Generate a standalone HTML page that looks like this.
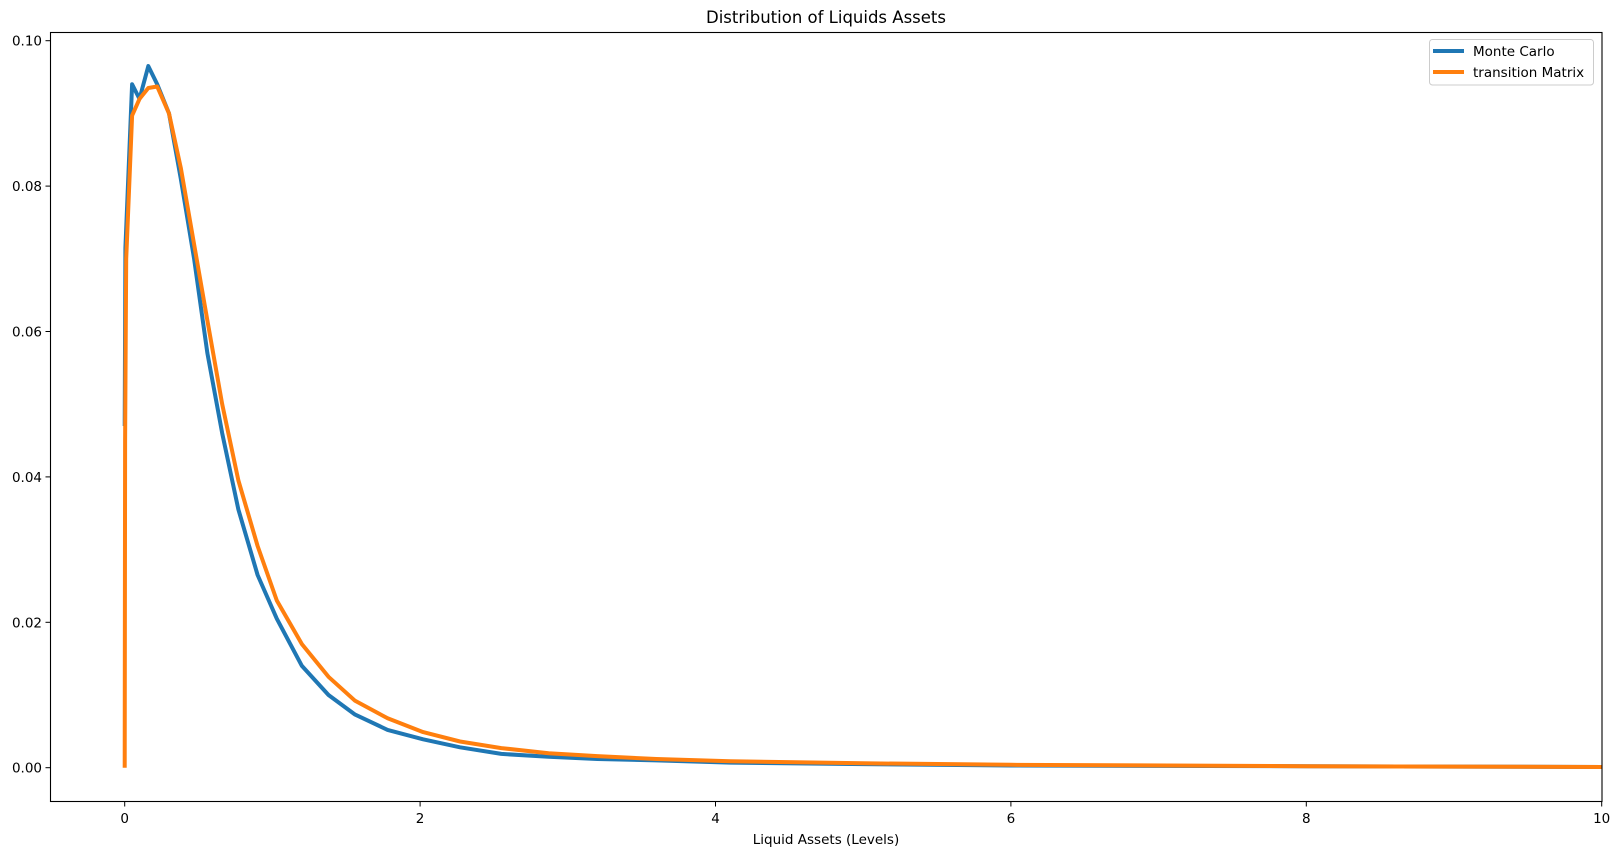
<!DOCTYPE html>
<html><head><meta charset="utf-8"><style>
html,body{margin:0;padding:0;background:#fff;}
svg{display:block;font-family:"DejaVu Sans","Liberation Sans",sans-serif;}
</style></head><body>
<svg id="s" width="1619" height="855" viewBox="0 0 1619 855" xmlns="http://www.w3.org/2000/svg">
<rect width="1619" height="855" fill="#fff"/>
<text x="826" y="23" font-size="16.5" text-anchor="middle" fill="#000">Distribution of Liquids Assets</text>
<defs><clipPath id="c"><rect x="50.5" y="32.5" width="1551.5" height="769"/></clipPath></defs>
<g id="lines" clip-path="url(#c)"></g>
<rect x="50.5" y="32.5" width="1551.5" height="769" fill="none" stroke="#000" stroke-width="1.1"/>
<g id="ticks" font-size="13.5" fill="#000"></g>
<text x="826" y="844" font-size="13.5" text-anchor="middle">Liquid Assets (Levels)</text>
<rect x="1429.5" y="39.5" width="164" height="45.5" rx="3" fill="#fff" fill-opacity="0.8" stroke="#ccc" stroke-width="1"/>
<line x1="1433" y1="51" x2="1464" y2="51" stroke="#1f77b4" stroke-width="4"/>
<line x1="1433" y1="72" x2="1464" y2="72" stroke="#ff7f0e" stroke-width="4"/>
<text x="1473" y="56" font-size="13.5">Monte Carlo</text>
<text x="1473" y="77" font-size="13.5">transition Matrix</text>
</svg>
<script>
var X=function(v){return 124.7+v*147.7;}, Y=function(v){return 767.7-v*7270;};
var blue=[[0,0.047],[0.005,0.0715],[0.05,0.094],[0.1,0.092],[0.16,0.0965],[0.22,0.094],[0.3,0.09],[0.38,0.081],[0.47,0.07],[0.56,0.057],[0.66,0.046],[0.77,0.0355],[0.9,0.0265],[1.03,0.0205],[1.2,0.014],[1.38,0.01],[1.56,0.0073],[1.78,0.0052],[2.02,0.0039],[2.27,0.0028],[2.55,0.0019],[2.87,0.0015],[3.2,0.0012],[3.6,0.001],[4.1,0.0007],[5,0.0005],[6,0.0003],[8,0.0002],[10,0.0001]];
var org=[[0,0],[0.003,0.045],[0.01,0.07],[0.05,0.0897],[0.1,0.092],[0.16,0.0935],[0.22,0.0937],[0.3,0.09],[0.38,0.0825],[0.47,0.072],[0.56,0.0615],[0.66,0.05],[0.77,0.0395],[0.9,0.0305],[1.03,0.023],[1.2,0.017],[1.38,0.0125],[1.56,0.0092],[1.78,0.0068],[2.02,0.0049],[2.27,0.0036],[2.55,0.0027],[2.87,0.002],[3.2,0.0016],[3.6,0.0012],[4.1,0.0009],[5,0.0006],[6,0.0004],[8,0.0002],[10,0.0001]];
function pl(d,c){return '<polyline fill="none" stroke="'+c+'" stroke-width="4" stroke-linejoin="round" points="'+d.map(function(p){return X(p[0]).toFixed(1)+','+Y(p[1]).toFixed(1)}).join(' ')+'"/>';}
document.getElementById('lines').innerHTML=pl(blue,'#1f77b4')+pl(org,'#ff7f0e');
var t='';
for(var i=0;i<=5;i++){var v=i*0.02,y=Y(v);t+='<line x1="45.5" x2="50.5" y1="'+y+'" y2="'+y+'" stroke="#000"/><text x="42" y="'+(y+5)+'" text-anchor="end">'+v.toFixed(2)+'</text>';}
for(var j=0;j<=10;j+=2){var x=X(j);t+='<line x1="'+x+'" x2="'+x+'" y1="801.5" y2="806.5" stroke="#000"/><text x="'+x+'" y="823" text-anchor="middle">'+j+'</text>';}
document.getElementById('ticks').innerHTML=t;
</script>
</body></html>
